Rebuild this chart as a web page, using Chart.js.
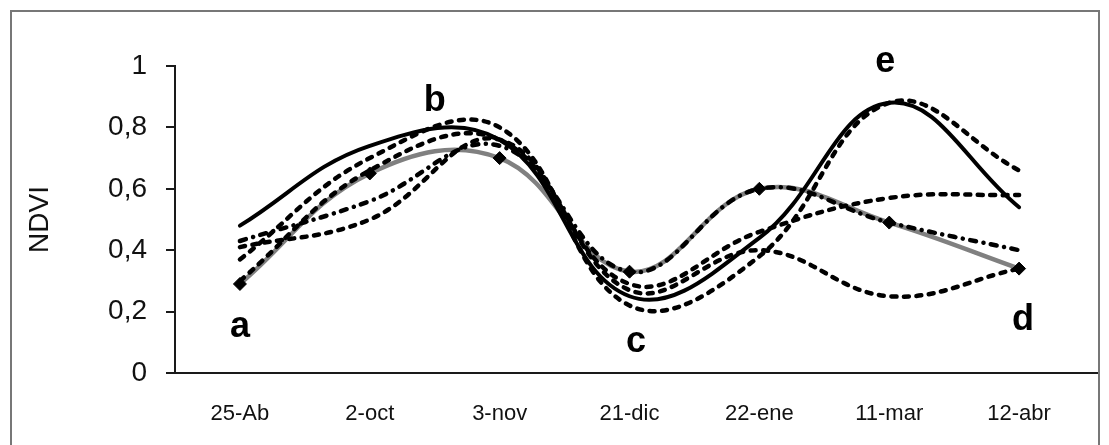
<!DOCTYPE html>
<html>
<head>
<meta charset="utf-8">
<script src="https://cdn.jsdelivr.net/npm/chart.js@4.4.0/dist/chart.umd.min.js"></script>
<style>
  html, body { margin: 0; padding: 0; background: #fff; }
  #wrap { position: relative; width: 1109px; height: 445px; overflow: hidden; }
  #frame { position: absolute; left: 10px; top: 10px; width: 1086px; height: 470px; border: 2px solid #777; }
  canvas { position: absolute; left: 0; top: 0; }
</style>
</head>
<body>
<div id="wrap">
  <div id="frame"></div>
  <canvas id="ndviChart" width="1109" height="445"></canvas>
</div>
<script>
// fechas de muestreo
const fechas = ['25-Ab', '2-oct', '3-nov', '21-dic', '22-ene', '11-mar', '12-abr'];

// NDVI por serie
const serieContinua = [0.48, 0.74, 0.76, 0.25, 0.44, 0.88, 0.54];
const serieGris     = [0.29, 0.65, 0.70, 0.33, 0.60, 0.49, 0.34];
const serieRayaPto  = [0.43, 0.56, 0.74, 0.33, 0.60, 0.49, 0.40];
const serieRaya1    = [0.37, 0.70, 0.80, 0.22, 0.38, 0.88, 0.66];
const serieRaya2    = [0.30, 0.66, 0.76, 0.29, 0.46, 0.57, 0.58];
const serieRaya3    = [0.41, 0.50, 0.76, 0.27, 0.40, 0.25, 0.34];

const yTicks = [0, 0.2, 0.4, 0.6, 0.8, 1];

// letras de las fases (x = indice de fecha, y = NDVI)
const fases = [
    { t: 'a', x: 0,    y: 0.118 },
    { t: 'b', x: 1.5,  y: 0.853 },
    { t: 'c', x: 3.05, y: 0.069 },
    { t: 'e', x: 4.97, y: 0.98 },
    { t: 'd', x: 6.03, y: 0.14 }
];

const FONT = '"Liberation Sans", Arial, sans-serif';

function puntos(arr) {
    return arr.map((v, i) => ({ x: i, y: v }));
}

function linea(arr, extra) {
    return Object.assign({
        data: puntos(arr),
        borderColor: '#000',
        borderWidth: 4.5,
        pointRadius: 0,
        tension: 0.4,
        fill: false,
        borderCapStyle: 'round',
        borderJoinStyle: 'round'
    }, extra);
}

const letrasPlugin = {
    id: 'letras',
    afterDatasetsDraw(chart) {
        const ctx = chart.ctx;
        const xs = chart.scales.x, ys = chart.scales.y;
        ctx.save();
        ctx.font = 'bold 36px ' + FONT;
        ctx.fillStyle = '#000';
        ctx.textAlign = 'center';
        ctx.textBaseline = 'alphabetic';
        fases.forEach(f => {
            ctx.fillText(f.t, xs.getPixelForValue(f.x), ys.getPixelForValue(f.y));
        });
        ctx.restore();
    }
};

new Chart(document.getElementById('ndviChart'), {
    type: 'line',
    data: {
        datasets: [
            // marcadores rombo encima de todo
            {
                data: puntos(serieGris),
                showLine: false,
                pointStyle: 'rectRot',
                pointRadius: 6.5,
                pointBackgroundColor: '#000',
                pointBorderColor: '#000',
                pointBorderWidth: 1
            },
            linea(serieContinua, { borderWidth: 4 }),
            linea(serieRayaPto, { borderDash: [6, 7.5, 0.1, 7.5] }),
            linea(serieRaya1, { borderDash: [5, 7.5] }),
            linea(serieRaya2, { borderDash: [5, 7.5] }),
            linea(serieRaya3, { borderDash: [5, 7.5] }),
            linea(serieGris, { borderColor: '#808080', borderCapStyle: 'butt' })
        ]
    },
    options: {
        responsive: false,
        animation: false,
        events: [],
        layout: { padding: { left: 23, right: 12, top: 66, bottom: 0 } },
        plugins: {
            legend: { display: false },
            tooltip: { enabled: false }
        },
        scales: {
            x: {
                type: 'linear',
                min: -0.5,
                max: 6.6,
                afterBuildTicks: s => { s.ticks = fechas.map((f, i) => ({ value: i })); },
                grid: { display: false, drawTicks: false },
                border: { display: true, color: '#1a1a1a', width: 2 },
                ticks: {
                    autoSkip: false,
                    maxRotation: 0,
                    padding: 28,
                    color: '#111',
                    font: { family: '"Liberation Sans Narrow", "Liberation Sans", Arial, sans-serif', size: 22 },
                    callback: v => fechas[Math.round(v)] || ''
                },
                afterFit: s => { s.height = 72; }
            },
            y: {
                min: 0,
                max: 1,
                afterBuildTicks: s => { s.ticks = yTicks.map(v => ({ value: v })); },
                grid: { drawOnChartArea: false, drawTicks: true, tickLength: 9, color: '#1a1a1a', lineWidth: 2 },
                border: { display: true, color: '#1a1a1a', width: 2 },
                ticks: {
                    padding: 19,
                    color: '#111',
                    font: { family: FONT, size: 28 },
                    callback: v => String(+v.toFixed(1)).replace('.', ',')
                },
                title: {
                    display: true,
                    text: 'NDVI',
                    color: '#111',
                    font: { family: FONT, size: 28 },
                    padding: { top: 0, bottom: 0 }
                },
                afterFit: s => { s.width = 152; }
            }
        }
    },
    plugins: [letrasPlugin]
});
</script>
</body>
</html>
